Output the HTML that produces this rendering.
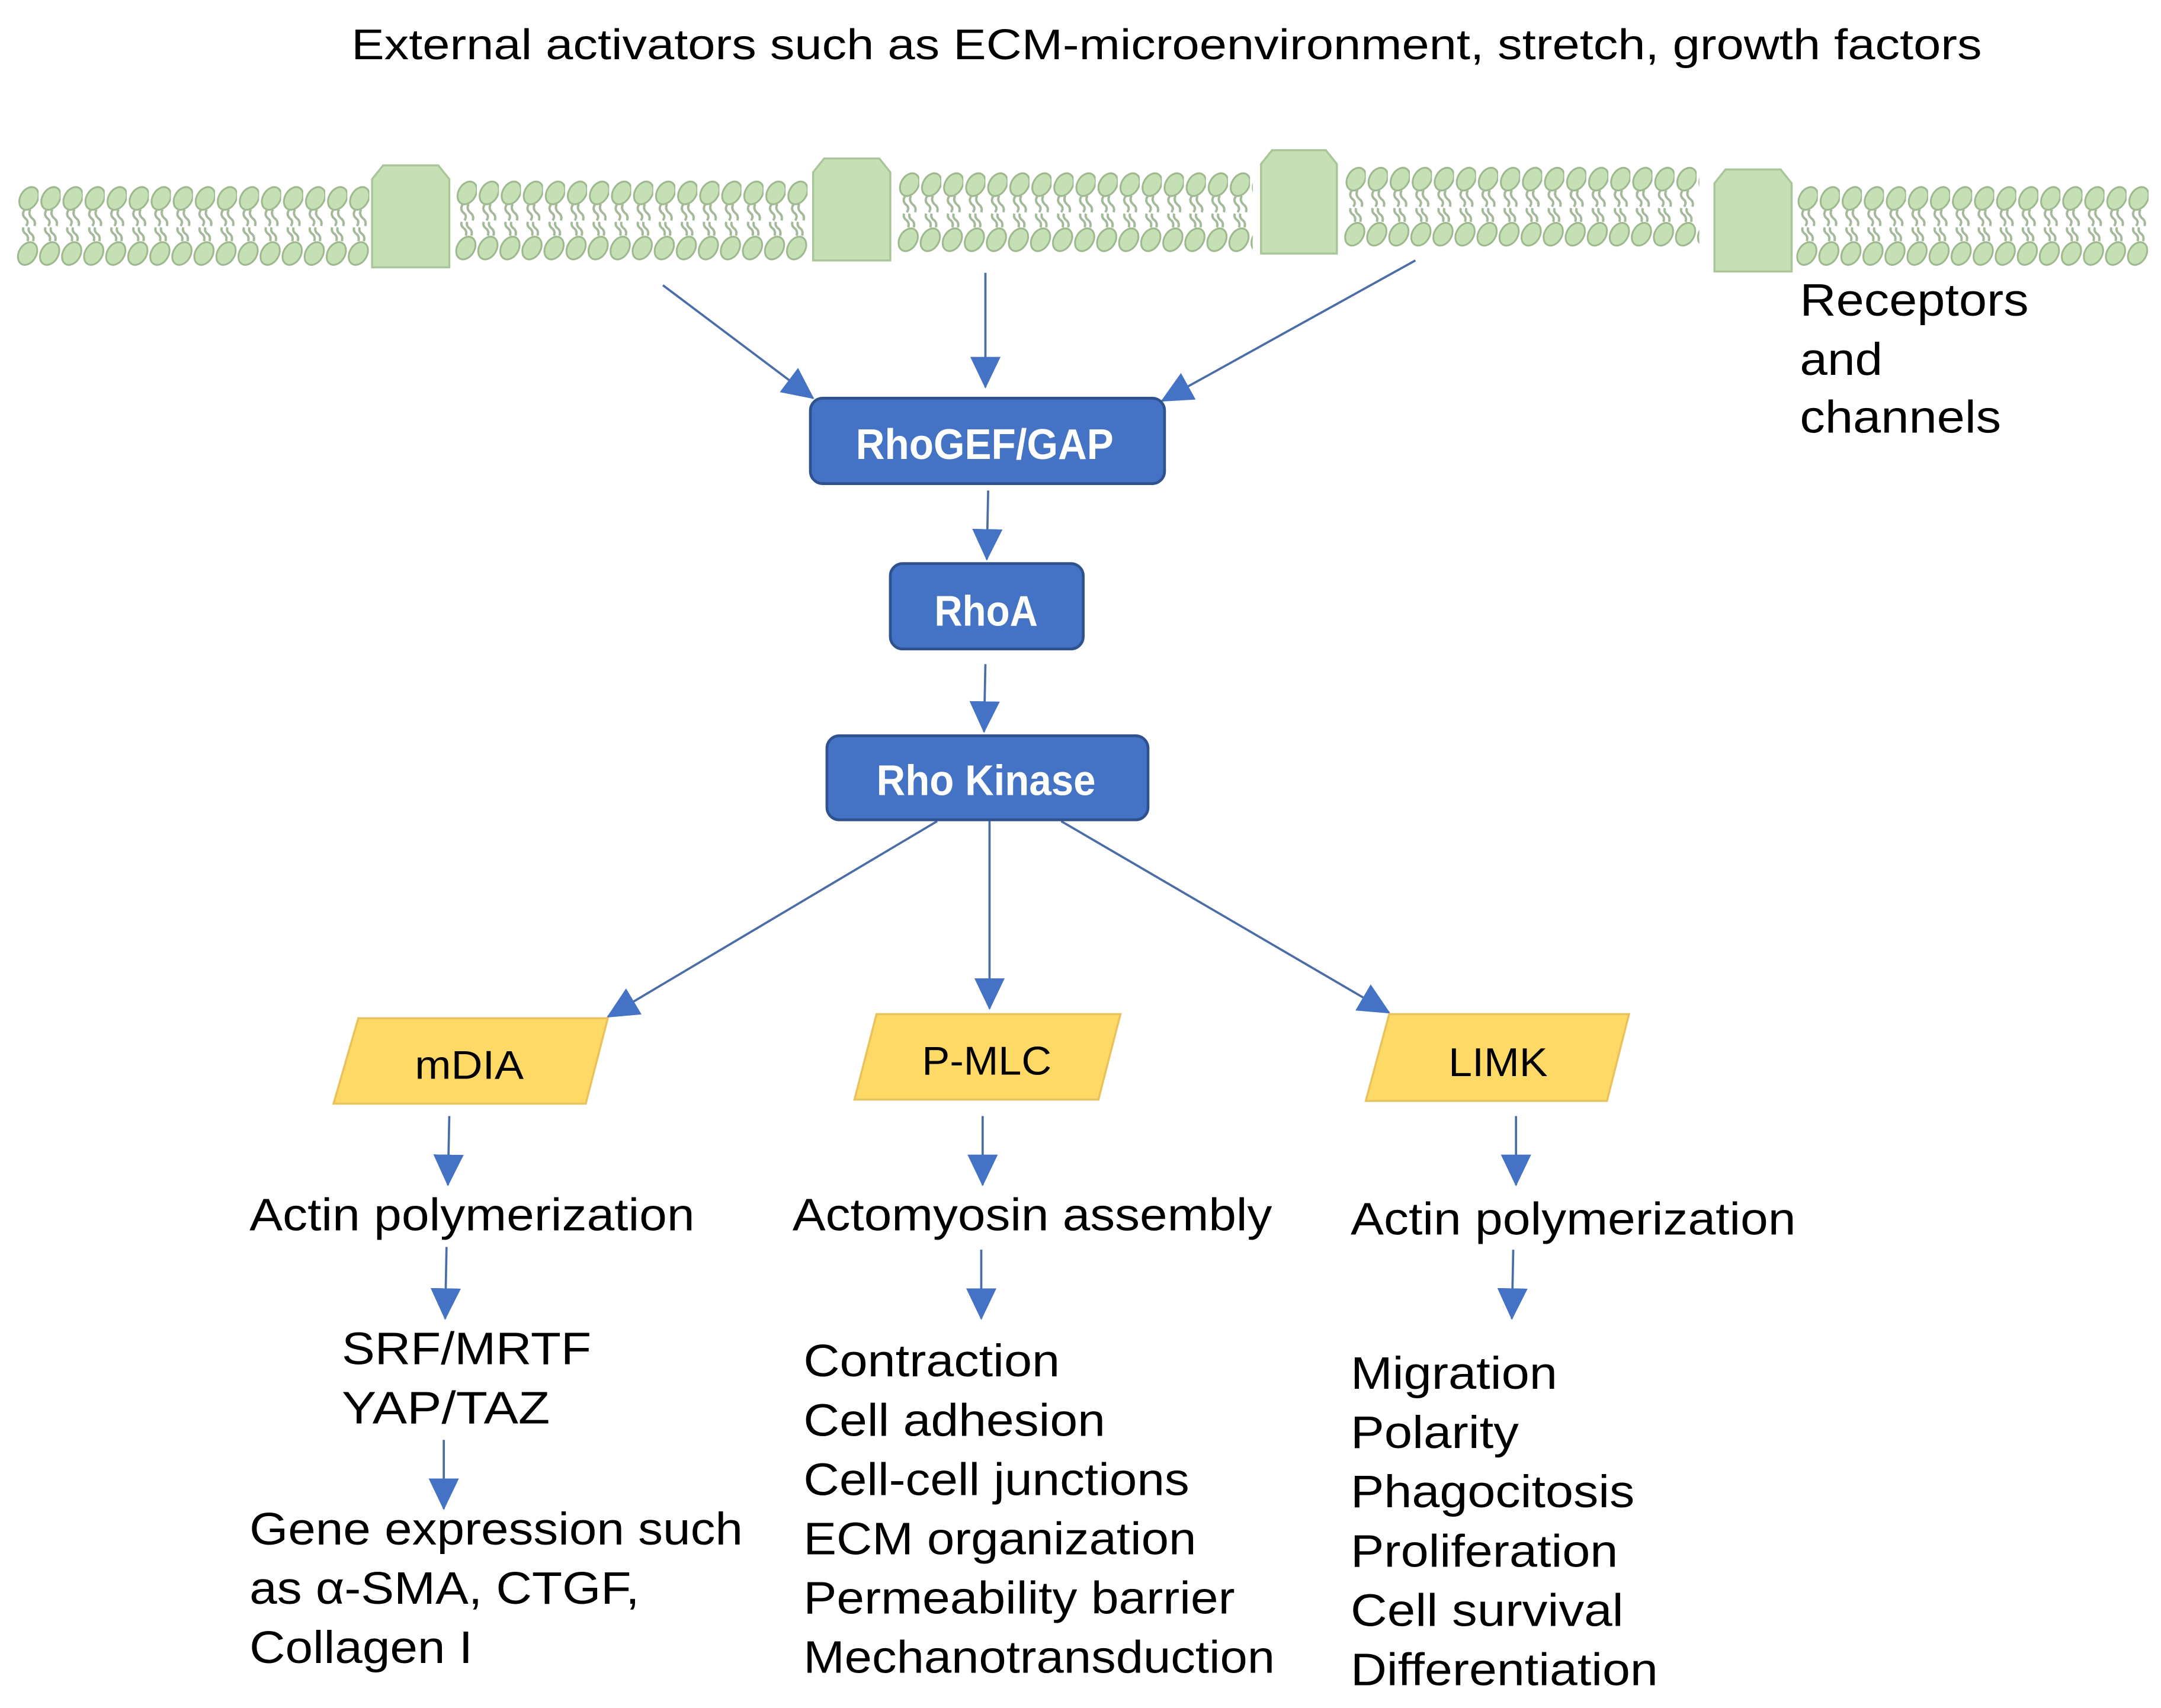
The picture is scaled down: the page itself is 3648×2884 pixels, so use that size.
<!DOCTYPE html>
<html><head><meta charset="utf-8"><style>html,body{margin:0;padding:0;background:#fff}svg{display:block}</style></head>
<body>
<svg width="3648" height="2884" viewBox="0 0 1568 1239.6" xmlns="http://www.w3.org/2000/svg" font-family="Liberation Sans, sans-serif">
<defs>
<marker id="ah" markerUnits="userSpaceOnUse" markerWidth="24" markerHeight="24" viewBox="0 0 24 24" refX="22" refY="12" orient="auto">
<path d="M0,1 L23,12 L0,23 Z" fill="#4472C4"/>
</marker>
<pattern id="lip" patternUnits="userSpaceOnUse" x="0" y="0" width="16" height="64">
<g fill="#C5E0B4" stroke="#9DB88E" stroke-width="1.3">
<ellipse cx="9" cy="12" rx="6.3" ry="8.8" transform="rotate(30 9 12)"/>
<ellipse cx="8" cy="52" rx="6.3" ry="8.8" transform="rotate(30 8 52)"/>
</g>
<g fill="none" stroke="#A3B99A" stroke-width="1.7">
<path d="M6,20 q-3,4 1,7 q2,2 0,5"/><path d="M10,20 q-2,4 2,7 q2,2 1,5"/>
<path d="M5,33 q-1,3 2,5 q2,2 1,5"/><path d="M9,33 q-1,3 2,5 q2,2 1,5"/>
</g>
</pattern>
</defs>
<rect width="1568" height="1240" fill="#fff"/>
<text x="255" y="43" font-size="31" textLength="1183" lengthAdjust="spacingAndGlyphs" fill="#000">External activators such as ECM-microenvironment, stretch, growth factors</text>

<g transform="translate(12,132)"><rect width="256" height="64" fill="url(#lip)"/></g>
<g transform="translate(330,128)"><rect width="256" height="64" fill="url(#lip)"/></g>
<g transform="translate(651,122)"><rect width="258" height="64" fill="url(#lip)"/></g>
<g transform="translate(975,118)"><rect width="258" height="64" fill="url(#lip)"/></g>
<g transform="translate(1303,132)"><rect width="256" height="64" fill="url(#lip)"/></g>
<g fill="#C5E0B4" stroke="#A9C59A" stroke-width="1.5">
<path d="M270,194 L270,130 L278,120 L318,120 L326,130 L326,194 Z"/>
<path d="M590,189 L590,125 L598,115 L638,115 L646,125 L646,189 Z"/>
<path d="M915,184 L915,119 L923,109 L962,109 L970,119 L970,184 Z"/>
<path d="M1244,197 L1244,133 L1252,123 L1292,123 L1300,133 L1300,197 Z"/>
</g>
<g font-size="33" fill="#000">
<text x="1306" y="229" textLength="166" lengthAdjust="spacingAndGlyphs">Receptors</text>
<text x="1306" y="272" textLength="60" lengthAdjust="spacingAndGlyphs">and</text>
<text x="1306" y="314" textLength="146" lengthAdjust="spacingAndGlyphs">channels</text></g>

<g stroke="#4A6DA8" stroke-width="1.6" marker-end="url(#ah)">
<line x1="481" y1="207" x2="590" y2="289"/>
<line x1="715" y1="198" x2="715" y2="281"/>
<line x1="1027" y1="189" x2="843" y2="291"/>
<line x1="717" y1="356" x2="716" y2="406"/>
<line x1="715" y1="482" x2="714" y2="531"/>
<line x1="680" y1="596" x2="441" y2="738"/>
<line x1="718" y1="596" x2="718" y2="732"/>
<line x1="770" y1="596" x2="1008" y2="735"/>
<line x1="326" y1="810" x2="325" y2="860"/>
<line x1="713" y1="810" x2="713" y2="860"/>
<line x1="1100" y1="810" x2="1100" y2="860"/>
<line x1="324" y1="905" x2="323" y2="957"/>
<line x1="712" y1="907" x2="712" y2="957"/>
<line x1="1098" y1="907" x2="1097" y2="957"/>
<line x1="322" y1="1045" x2="322" y2="1095"/>
</g>

<g fill="#4472C4" stroke="#2F528F" stroke-width="2">
<rect x="588" y="289" width="257" height="62" rx="9"/>
<rect x="646" y="409" width="140" height="62" rx="9"/>
<rect x="600" y="534" width="233" height="61" rx="9"/>
</g>
<g fill="#fff" font-size="31" font-weight="bold">
<text x="621" y="333" textLength="187" lengthAdjust="spacingAndGlyphs">RhoGEF/GAP</text>
<text x="678" y="454" textLength="75" lengthAdjust="spacingAndGlyphs">RhoA</text>
<text x="636" y="577" textLength="159" lengthAdjust="spacingAndGlyphs">Rho Kinase</text>
</g>

<g fill="#FFD966" stroke="#E8C25A" stroke-width="1.5">
<path d="M260,739 L441,739 L425,801 L242,801 Z"/>
<path d="M636,736 L813,736 L797,798 L620,798 Z"/>
<path d="M1008,736 L1182,736 L1166,799 L991,799 Z"/>
</g>
<g fill="#000" font-size="29">
<text x="301" y="783" textLength="79" lengthAdjust="spacingAndGlyphs">mDIA</text>
<text x="669" y="780" textLength="94" lengthAdjust="spacingAndGlyphs">P-MLC</text>
<text x="1051" y="781" textLength="72" lengthAdjust="spacingAndGlyphs">LIMK</text>
</g>

<g font-size="33" fill="#000">
<text x="181" y="893" textLength="323" lengthAdjust="spacingAndGlyphs">Actin polymerization</text>
<text x="575" y="893" textLength="348" lengthAdjust="spacingAndGlyphs">Actomyosin assembly</text>
<text x="980" y="896" textLength="323" lengthAdjust="spacingAndGlyphs">Actin polymerization</text>
<text x="248" y="990" textLength="181" lengthAdjust="spacingAndGlyphs">SRF/MRTF</text>
<text x="248" y="1033" textLength="151" lengthAdjust="spacingAndGlyphs">YAP/TAZ</text>
<text x="181" y="1121" textLength="358" lengthAdjust="spacingAndGlyphs">Gene expression such</text>
<text x="181" y="1164" textLength="283" lengthAdjust="spacingAndGlyphs">as α-SMA, CTGF,</text>
<text x="181" y="1207" textLength="162" lengthAdjust="spacingAndGlyphs">Collagen I</text>
<text x="583" y="999" textLength="186" lengthAdjust="spacingAndGlyphs">Contraction</text>
<text x="583" y="1042" textLength="219" lengthAdjust="spacingAndGlyphs">Cell adhesion</text>
<text x="583" y="1085" textLength="280" lengthAdjust="spacingAndGlyphs">Cell-cell junctions</text>
<text x="583" y="1128" textLength="285" lengthAdjust="spacingAndGlyphs">ECM organization</text>
<text x="583" y="1171" textLength="313" lengthAdjust="spacingAndGlyphs">Permeability barrier</text>
<text x="583" y="1214" textLength="342" lengthAdjust="spacingAndGlyphs">Mechanotransduction</text>
<text x="980" y="1008" textLength="150" lengthAdjust="spacingAndGlyphs">Migration</text>
<text x="980" y="1051" textLength="122" lengthAdjust="spacingAndGlyphs">Polarity</text>
<text x="980" y="1094" textLength="206" lengthAdjust="spacingAndGlyphs">Phagocitosis</text>
<text x="980" y="1137" textLength="194" lengthAdjust="spacingAndGlyphs">Proliferation</text>
<text x="980" y="1180" textLength="198" lengthAdjust="spacingAndGlyphs">Cell survival</text>
<text x="980" y="1223" textLength="223" lengthAdjust="spacingAndGlyphs">Differentiation</text>
</g>
</svg>
</body></html>
